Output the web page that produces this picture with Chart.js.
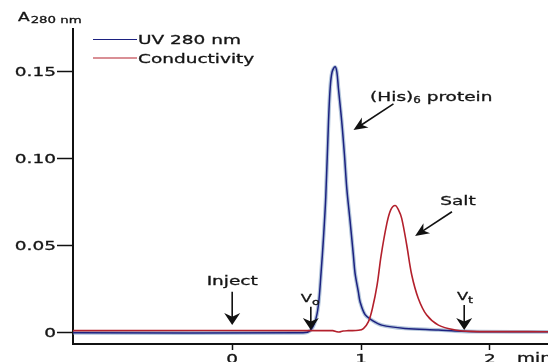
<!DOCTYPE html>
<html>
<head>
<meta charset="utf-8">
<script src="https://cdn.jsdelivr.net/npm/chart.js@4"></script>
<style>
  html, body { margin: 0; padding: 0; background: #fff; }
  #wrap { width: 548px; height: 362px; position: relative; }
</style>
</head>
<body>
<div id="wrap"><canvas id="chart"></canvas></div>
<script>
// elution profile (time in min)
const uvTime = [-1.235, 0.55, 0.605, 0.643, 0.669, 0.690, 0.708, 0.726, 0.747, 0.760, 0.775, 0.798, 0.812, 0.824, 0.850, 0.871, 0.889, 0.915, 0.940, 0.953, 0.979, 0.992, 1.031, 1.083, 1.16, 1.34, 1.6, 1.73, 1.9, 2.45];
const uvAbs = [-0.0004, -0.0004, 0.0008, 0.006, 0.0156, 0.0347, 0.054, 0.078, 0.121, 0.1406, 0.150, 0.153, 0.150, 0.1406, 0.1213, 0.1021, 0.0829, 0.0637, 0.0444, 0.034, 0.023, 0.0175, 0.010, 0.0069, 0.004, 0.0021, 0.0012, 0.0006, 0.0002, 0.0001];

const condTime = [-1.235, 0.78, 0.81, 0.83, 0.86, 0.9, 0.98, 1.018, 1.057, 1.089, 1.124, 1.155, 1.198, 1.23, 1.264, 1.29, 1.315, 1.354, 1.393, 1.444, 1.509, 1.60, 1.729, 1.85, 2.45];
const condValue = [0.0008, 0.0008, 0.0002, 0.0, 0.0006, 0.0008, 0.001, 0.002, 0.006, 0.014, 0.027, 0.044, 0.062, 0.0705, 0.073, 0.0705, 0.0656, 0.0502, 0.0329, 0.0194, 0.0098, 0.004, 0.0012, 0.0004, 0.0002];

const xTickValues = [0, 1, 2];
const xTickLabels = ['0', '1', '2'];
const yTickValues = [0, 0.05, 0.10, 0.15];
const yTickLabels = ['0', '0.05', '0.10', '0.15'];

const seriesNames = ['UV 280 nm', 'Conductivity'];

const BLUE = '#1c2180';
const RED = '#b3202c';
const INK = '#151515';
const SX = 1.48; // the original text is stretched sideways
const FONT = '"DejaVu Sans", Verdana, sans-serif';

function toPoints(xs, ys) {
  return xs.map((x, i) => ({ x: x, y: ys[i] }));
}

// draw text stretched horizontally, returns width used
function sText(ctx, str, x, y, size, align) {
  ctx.save();
  ctx.font = size + 'px ' + FONT;
  const w = ctx.measureText(str).width * SX;
  let x0 = x;
  if (align === 'center') x0 = x - w / 2;
  if (align === 'right') x0 = x - w;
  ctx.translate(x0, y);
  ctx.scale(SX, 1);
  ctx.textAlign = 'left';
  ctx.textBaseline = 'alphabetic';
  ctx.fillStyle = INK;
  ctx.strokeStyle = INK;
  ctx.lineWidth = 0.3;
  ctx.fillText(str, 0, 0);
  ctx.strokeText(str, 0, 0);
  ctx.restore();
  return w;
}

function textWidth(ctx, str, size) {
  ctx.save();
  ctx.font = size + 'px ' + FONT;
  const w = ctx.measureText(str).width * SX;
  ctx.restore();
  return w;
}

function arrow(ctx, x1, y1, x2, y2, len, half) {
  const ang = Math.atan2(y2 - y1, x2 - x1);
  const c = Math.cos(ang), s = Math.sin(ang);
  ctx.save();
  ctx.strokeStyle = '#111';
  ctx.fillStyle = '#111';
  ctx.lineWidth = 1.6;
  ctx.beginPath();
  ctx.moveTo(x1, y1);
  ctx.lineTo(x2 - c * len * 0.6, y2 - s * len * 0.6);
  ctx.stroke();
  const bx = x2 - c * len, by = y2 - s * len;
  const nx = x2 - c * len * 0.7, ny = y2 - s * len * 0.7;
  ctx.beginPath();
  ctx.moveTo(x2, y2);
  ctx.lineTo(bx - s * half, by + c * half);
  ctx.lineTo(nx, ny);
  ctx.lineTo(bx + s * half, by - c * half);
  ctx.closePath();
  ctx.fill();
  ctx.restore();
}

// annotations, in data units
const arrowsV = [
  { x: 0, from: 0.0233, to: 0.004 },
  { x: 0.61, from: 0.0146, to: 0.0012 },
  { x: 1.80, from: 0.0156, to: 0.0012 }
];
const arrowsD = [
  { x1: 1.251, y1: 0.1316, x2: 0.941, y2: 0.1165 },
  { x1: 1.705, y1: 0.0694, x2: 1.419, y2: 0.0554 }
];

const overlay = {
  id: 'overlay',
  afterDraw(chart) {
    const ctx = chart.ctx;
    const xs = chart.scales.x, ys = chart.scales.y;
    const area = chart.chartArea;

    // tick labels
    yTickValues.forEach((v, i) => {
      sText(ctx, yTickLabels[i], area.left - 17, ys.getPixelForValue(v) + 4.5, 12.5, 'right');
    });
    xTickValues.forEach((v, i) => {
      sText(ctx, xTickLabels[i], xs.getPixelForValue(v), 362.5, 12.5, 'center');
    });
    sText(ctx, 'min', xs.getPixelForValue(2.21), 361.5, 12.5, 'left');

    // axis title
    const aw = sText(ctx, 'A', area.left - 55, 21, 11.5, 'left');
    sText(ctx, '280 nm', area.left - 55 + aw + 1, 23, 9, 'left');

    // legend
    [BLUE, RED].forEach((col, i) => {
      const y = 39.5 + i * 18.5;
      ctx.save();
      ctx.strokeStyle = col;
      ctx.lineWidth = 1.2;
      ctx.beginPath();
      ctx.moveTo(area.left + 20, y);
      ctx.lineTo(area.left + 64, y);
      ctx.stroke();
      ctx.restore();
      sText(ctx, seriesNames[i], area.left + 65, y + 4.5, 12.5, 'left');
    });

    // labels on the trace
    sText(ctx, 'Inject', xs.getPixelForValue(0), ys.getPixelForValue(0.030) + 4.5, 12.5, 'center');
    const vo = xs.getPixelForValue(0.605), voY = ys.getPixelForValue(0.0196) + 4;
    const vw = textWidth(ctx, 'V', 11) + textWidth(ctx, 'o', 8.5);
    const w1 = sText(ctx, 'V', vo - vw / 2, voY, 11, 'left');
    sText(ctx, 'o', vo - vw / 2 + w1, voY + 2.5, 8.5, 'left');
    const vt = xs.getPixelForValue(1.806), vtY = ys.getPixelForValue(0.0205) + 4;
    const vw2 = textWidth(ctx, 'V', 11) + textWidth(ctx, 't', 8.5);
    const w2 = sText(ctx, 'V', vt - vw2 / 2, vtY, 11, 'left');
    sText(ctx, 't', vt - vw2 / 2 + w2, vtY + 2.5, 8.5, 'left');

    let hx = xs.getPixelForValue(1.07);
    const hy = ys.getPixelForValue(0.136) + 4.5;
    hx += sText(ctx, '(His)', hx, hy, 12.5, 'left');
    hx += sText(ctx, '6', hx, hy + 2.5, 8, 'left');
    sText(ctx, ' protein', hx, hy, 12.5, 'left');

    sText(ctx, 'Salt', xs.getPixelForValue(1.752), ys.getPixelForValue(0.0756) + 4.5, 12.5, 'center');

    arrowsV.forEach(a => {
      const px = xs.getPixelForValue(a.x);
      arrow(ctx, px, ys.getPixelForValue(a.from), px, ys.getPixelForValue(a.to), 12, 8);
    });
    arrowsD.forEach(a => {
      arrow(ctx, xs.getPixelForValue(a.x1), ys.getPixelForValue(a.y1),
        xs.getPixelForValue(a.x2), ys.getPixelForValue(a.y2), 14, 6);
    });
  }
};

const ctx = document.getElementById('chart').getContext('2d');
new Chart(ctx, {
  type: 'line',
  data: {
    datasets: [
      {
        label: seriesNames[1],
        data: toPoints(condTime, condValue),
        borderColor: RED,
        borderWidth: 1.6,
        pointRadius: 0,
        tension: 0.35
      },
      {
        label: seriesNames[0],
        data: toPoints(uvTime, uvAbs),
        borderColor: BLUE,
        borderWidth: 1.5,
        pointRadius: 0,
        tension: 0.35
      },
      {
        // soft halo under the UV trace
        label: 'halo',
        data: toPoints(uvTime, uvAbs),
        borderColor: 'rgba(130,160,195,0.6)',
        borderWidth: 3.8,
        pointRadius: 0,
        tension: 0.35
      }
    ]
  },
  options: {
    responsive: true,
    maintainAspectRatio: false,
    animation: false,
    layout: { padding: { top: 29, left: 0, right: 0, bottom: 0 } },
    plugins: {
      legend: { display: false },
      tooltip: { enabled: false }
    },
    scales: {
      x: {
        type: 'linear',
        min: -1.235,
        max: 2.45,
        afterBuildTicks: (scale) => { scale.ticks = xTickValues.map(v => ({ value: v })); },
        afterFit: (scale) => { scale.height = 18; },
        ticks: { display: false },
        grid: { drawOnChartArea: false, drawTicks: true, tickLength: 6, tickColor: '#111', tickWidth: 1.5 },
        border: { display: true, color: '#111', width: 2 }
      },
      y: {
        min: -0.0069,
        max: 0.1748,
        afterBuildTicks: (scale) => { scale.ticks = yTickValues.map(v => ({ value: v })); },
        afterFit: (scale) => { scale.width = 73; },
        ticks: { display: false },
        grid: { drawOnChartArea: false, drawTicks: true, tickLength: 16, tickColor: '#111', tickWidth: 1.5 },
        border: { display: true, color: '#111', width: 2 }
      }
    }
  },
  plugins: [overlay]
});
</script>
</body>
</html>
